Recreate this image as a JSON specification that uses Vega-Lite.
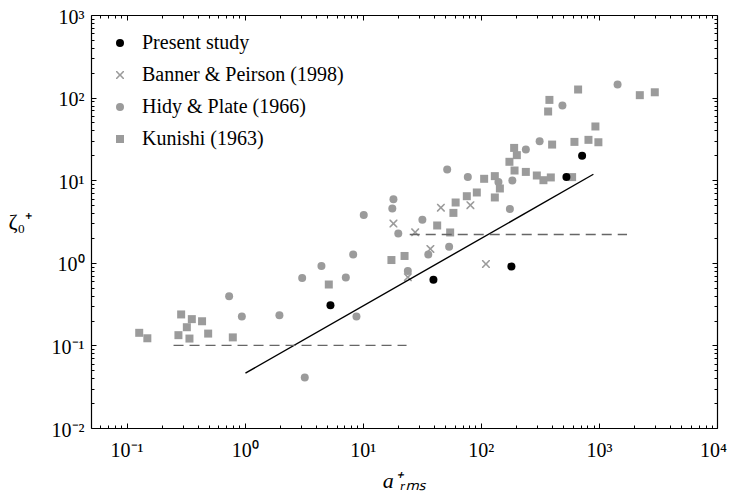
{
  "$schema": "https://vega.github.io/schema/vega-lite/v6.json",
  "width": 626,
  "height": 413,
  "autosize": {"type": "none"},
  "padding": {"left": 91, "top": 15, "right": 12, "bottom": 66},
  "config": {
    "view": {"stroke": null},
    "font": "Liberation Serif",
    "axis": {"grid": false, "domainColor": "black", "tickColor": "black", "labelColor": "black", "titleColor": "black", "tickWidth": 1, "domainWidth": 1.2, "labelFont": "Liberation Serif", "titleFont": "Liberation Serif"}
  },
  "datasets": {
    "points": [
      {"series": "Kunishi (1963)", "a": 0.128, "z": 0.142},
      {"series": "Kunishi (1963)", "a": 0.150, "z": 0.122},
      {"series": "Kunishi (1963)", "a": 0.290, "z": 0.237},
      {"series": "Kunishi (1963)", "a": 0.324, "z": 0.166},
      {"series": "Kunishi (1963)", "a": 0.357, "z": 0.208},
      {"series": "Kunishi (1963)", "a": 0.436, "z": 0.196},
      {"series": "Kunishi (1963)", "a": 0.275, "z": 0.133},
      {"series": "Kunishi (1963)", "a": 0.341, "z": 0.121},
      {"series": "Kunishi (1963)", "a": 0.491, "z": 0.139},
      {"series": "Kunishi (1963)", "a": 0.794, "z": 0.125},
      {"series": "Kunishi (1963)", "a": 5.16, "z": 0.546},
      {"series": "Kunishi (1963)", "a": 17.5, "z": 1.08},
      {"series": "Kunishi (1963)", "a": 22.6, "z": 1.21},
      {"series": "Kunishi (1963)", "a": 42.7, "z": 2.83},
      {"series": "Kunishi (1963)", "a": 55.0, "z": 2.33},
      {"series": "Kunishi (1963)", "a": 58.6, "z": 4.02},
      {"series": "Kunishi (1963)", "a": 61.2, "z": 5.37},
      {"series": "Kunishi (1963)", "a": 76.1, "z": 6.40},
      {"series": "Kunishi (1963)", "a": 92.5, "z": 7.10},
      {"series": "Kunishi (1963)", "a": 106.7, "z": 10.4},
      {"series": "Kunishi (1963)", "a": 131.4, "z": 11.2},
      {"series": "Kunishi (1963)", "a": 131.4, "z": 6.18},
      {"series": "Kunishi (1963)", "a": 145, "z": 7.94},
      {"series": "Kunishi (1963)", "a": 191.5, "z": 24.6},
      {"series": "Kunishi (1963)", "a": 201.8, "z": 20.1},
      {"series": "Kunishi (1963)", "a": 174.7, "z": 16.7},
      {"series": "Kunishi (1963)", "a": 193, "z": 13.1},
      {"series": "Kunishi (1963)", "a": 240.5, "z": 12.6},
      {"series": "Kunishi (1963)", "a": 298, "z": 11.4},
      {"series": "Kunishi (1963)", "a": 339, "z": 10.0},
      {"series": "Kunishi (1963)", "a": 391.5, "z": 10.8},
      {"series": "Kunishi (1963)", "a": 593, "z": 10.9},
      {"series": "Kunishi (1963)", "a": 401.6, "z": 27.0},
      {"series": "Kunishi (1963)", "a": 380.9, "z": 93.8},
      {"series": "Kunishi (1963)", "a": 371.5, "z": 67.9},
      {"series": "Kunishi (1963)", "a": 666.6, "z": 125.3},
      {"series": "Kunishi (1963)", "a": 620.6, "z": 29.1},
      {"series": "Kunishi (1963)", "a": 815.6, "z": 30.8},
      {"series": "Kunishi (1963)", "a": 990, "z": 28.8},
      {"series": "Kunishi (1963)", "a": 934, "z": 44.7},
      {"series": "Kunishi (1963)", "a": 2220, "z": 107},
      {"series": "Kunishi (1963)", "a": 2973, "z": 116},
      {"series": "Hidy & Plate (1966)", "a": 0.739, "z": 0.394},
      {"series": "Hidy & Plate (1966)", "a": 0.947, "z": 0.224},
      {"series": "Hidy & Plate (1966)", "a": 1.97, "z": 0.232},
      {"series": "Hidy & Plate (1966)", "a": 3.07, "z": 0.656},
      {"series": "Hidy & Plate (1966)", "a": 4.47, "z": 0.917},
      {"series": "Hidy & Plate (1966)", "a": 7.19, "z": 0.664},
      {"series": "Hidy & Plate (1966)", "a": 8.30, "z": 1.26},
      {"series": "Hidy & Plate (1966)", "a": 10.2, "z": 3.80},
      {"series": "Hidy & Plate (1966)", "a": 18.2, "z": 5.89},
      {"series": "Hidy & Plate (1966)", "a": 17.8, "z": 4.54},
      {"series": "Hidy & Plate (1966)", "a": 20.0, "z": 2.26},
      {"series": "Hidy & Plate (1966)", "a": 8.85, "z": 0.224},
      {"series": "Hidy & Plate (1966)", "a": 3.23, "z": 0.0409},
      {"series": "Hidy & Plate (1966)", "a": 32.0, "z": 3.32},
      {"series": "Hidy & Plate (1966)", "a": 53.9, "z": 1.56},
      {"series": "Hidy & Plate (1966)", "a": 35.9, "z": 1.26},
      {"series": "Hidy & Plate (1966)", "a": 24.1, "z": 0.798},
      {"series": "Hidy & Plate (1966)", "a": 176.3, "z": 4.48},
      {"series": "Hidy & Plate (1966)", "a": 184.9, "z": 9.92},
      {"series": "Hidy & Plate (1966)", "a": 240.6, "z": 23.6},
      {"series": "Hidy & Plate (1966)", "a": 51.9, "z": 13.5},
      {"series": "Hidy & Plate (1966)", "a": 77.6, "z": 10.9},
      {"series": "Hidy & Plate (1966)", "a": 141, "z": 9.53},
      {"series": "Hidy & Plate (1966)", "a": 314.8, "z": 29.6},
      {"series": "Hidy & Plate (1966)", "a": 491, "z": 80.5},
      {"series": "Hidy & Plate (1966)", "a": 1439, "z": 144},
      {"series": "Banner & Peirson (1998)", "a": 18.2, "z": 2.99},
      {"series": "Banner & Peirson (1998)", "a": 27.8, "z": 2.34},
      {"series": "Banner & Peirson (1998)", "a": 45.9, "z": 4.65},
      {"series": "Banner & Peirson (1998)", "a": 81.6, "z": 4.98},
      {"series": "Banner & Peirson (1998)", "a": 37.4, "z": 1.47},
      {"series": "Banner & Peirson (1998)", "a": 24.1, "z": 0.669},
      {"series": "Banner & Peirson (1998)", "a": 110.5, "z": 0.967},
      {"series": "Present study", "a": 5.33, "z": 0.307},
      {"series": "Present study", "a": 39.7, "z": 0.624},
      {"series": "Present study", "a": 181.6, "z": 0.904},
      {"series": "Present study", "a": 530.7, "z": 10.9},
      {"series": "Present study", "a": 720.6, "z": 19.8}
    ],
    "lines": [
      {"kind": "fit", "a": 1.016, "z": 0.0461},
      {"kind": "fit", "a": 898, "z": 11.8},
      {"kind": "low", "a": 0.25, "z": 0.1},
      {"kind": "low", "a": 23.5, "z": 0.1},
      {"kind": "high", "a": 25, "z": 2.2},
      {"kind": "high", "a": 1730, "z": 2.2}
    ]
  },
  "layer": [
    {
      "data": {"name": "points"},
      "mark": {"type": "point", "filled": true, "opacity": 1, "size": 64},
      "encoding": {
        "x": {
          "field": "a", "type": "quantitative",
          "scale": {"type": "log", "domain": [0.05, 10000], "nice": false},
          "axis": {
            "orient": "bottom", "values": [0.1, 1, 10, 100, 1000, 10000],
            "labelExpr": "datum.value < 0.5 ? '10⁻¹' : datum.value < 5 ? '10⁰' : datum.value < 50 ? '10¹' : datum.value < 500 ? '10²' : datum.value < 5000 ? '10³' : '10⁴'",
            "labelOffset": {"condition": {"test": "datum.value > 5000", "value": -4}, "value": 0},
            "tickSize": -5, "labelPadding": 17, "labelFontSize": 20, "labelFlush": false, "labelOverlap": false,
            "title": "a⁺ᵣₘₛ", "titleFontSize": 22, "titleFontStyle": "italic", "titleFontWeight": "normal",
            "titleX": 313, "titleY": 59, "titleBaseline": "alphabetic", "titleAlign": "center"
          }
        },
        "y": {
          "field": "z", "type": "quantitative",
          "scale": {"type": "log", "domain": [0.01, 1000], "nice": false},
          "axis": {
            "orient": "left", "values": [0.01, 0.1, 1, 10, 100, 1000],
            "labelExpr": "datum.value < 0.05 ? '10⁻²' : datum.value < 0.5 ? '10⁻¹' : datum.value < 5 ? '10⁰' : datum.value < 50 ? '10¹' : datum.value < 500 ? '10²' : '10³'",
            "tickSize": -5, "labelPadding": 12, "labelFontSize": 20, "labelFlush": false, "labelOverlap": false, "labelOffset": 2,
            "title": "ζ₀⁺", "titleFontSize": 22, "titleFontWeight": "normal", "titleAngle": 0,
            "titleX": -83, "titleY": 213, "titleAlign": "left", "titleBaseline": "alphabetic"
          }
        },
        "color": {
          "field": "series", "type": "nominal",
          "scale": {"domain": ["Present study", "Banner & Peirson (1998)", "Hidy & Plate (1966)", "Kunishi (1963)"], "range": ["#000000", "#9b9b9b", "#9b9b9b", "#9b9b9b"]},
          "legend": {
            "title": null, "orient": "none", "legendX": 19, "legendY": 18, "padding": 0,
            "labelFontSize": 20, "labelFont": "Liberation Serif", "labelColor": "black", "labelOffset": 12, "labelLimit": 0,
            "rowPadding": 12, "symbolSize": 64, "symbolStrokeWidth": 0
          }
        },
        "shape": {
          "field": "series", "type": "nominal",
          "scale": {"domain": ["Present study", "Banner & Peirson (1998)", "Hidy & Plate (1966)", "Kunishi (1963)"], "range": ["circle", "M-1,-1L-0.72,-1L0,-0.28L0.72,-1L1,-1L1,-0.72L0.28,0L1,0.72L1,1L0.72,1L0,0.28L-0.72,1L-1,1L-1,0.72L-0.28,0L-1,-0.72Z", "circle", "square"]}
        }
      }
    },
    {
      "data": {"name": "lines"},
      "transform": [{"filter": "datum.kind == 'fit'"}],
      "mark": {"type": "line", "color": "black", "strokeWidth": 1.4},
      "encoding": {
        "x": {"field": "a", "type": "quantitative", "scale": {"type": "log", "domain": [0.05, 10000], "nice": false},
          "axis": {"orient": "bottom", "values": [0.06, 0.07, 0.08, 0.09, 0.2, 0.3, 0.4, 0.5, 0.6, 0.7, 0.8, 0.9, 2, 3, 4, 5, 6, 7, 8, 9, 20, 30, 40, 50, 60, 70, 80, 90, 200, 300, 400, 500, 600, 700, 800, 900, 2000, 3000, 4000, 5000, 6000, 7000, 8000, 9000], "labels": false, "tickSize": -3, "domain": false, "title": null}},
        "y": {"field": "z", "type": "quantitative", "scale": {"type": "log", "domain": [0.01, 1000], "nice": false},
          "axis": {"orient": "left", "values": [0.02, 0.03, 0.04, 0.05, 0.06, 0.07, 0.08, 0.09, 0.2, 0.3, 0.4, 0.5, 0.6, 0.7, 0.8, 0.9, 2, 3, 4, 5, 6, 7, 8, 9, 20, 30, 40, 50, 60, 70, 80, 90, 200, 300, 400, 500, 600, 700, 800, 900], "labels": false, "tickSize": -3, "domain": false, "title": null}}
      }
    },
    {
      "data": {"name": "lines"},
      "transform": [{"filter": "datum.kind == 'low'"}],
      "mark": {"type": "line", "color": "#666666", "strokeWidth": 1.3, "strokeDash": [10, 6]},
      "encoding": {
        "x": {"field": "a", "type": "quantitative", "scale": {"type": "log", "domain": [0.05, 10000], "nice": false},
          "axis": {"orient": "top", "values": [0.1, 1, 10, 100, 1000, 10000], "labels": false, "tickSize": -5, "title": null}},
        "y": {"field": "z", "type": "quantitative", "scale": {"type": "log", "domain": [0.01, 1000], "nice": false},
          "axis": {"orient": "right", "values": [0.01, 0.1, 1, 10, 100, 1000], "labels": false, "tickSize": -5, "title": null}}
      }
    },
    {
      "data": {"name": "lines"},
      "transform": [{"filter": "datum.kind == 'high'"}],
      "mark": {"type": "line", "color": "#666666", "strokeWidth": 1.3, "strokeDash": [10, 6]},
      "encoding": {
        "x": {"field": "a", "type": "quantitative", "scale": {"type": "log", "domain": [0.05, 10000], "nice": false},
          "axis": {"orient": "top", "values": [0.06, 0.07, 0.08, 0.09, 0.2, 0.3, 0.4, 0.5, 0.6, 0.7, 0.8, 0.9, 2, 3, 4, 5, 6, 7, 8, 9, 20, 30, 40, 50, 60, 70, 80, 90, 200, 300, 400, 500, 600, 700, 800, 900, 2000, 3000, 4000, 5000, 6000, 7000, 8000, 9000], "labels": false, "tickSize": -3, "domain": false, "title": null}},
        "y": {"field": "z", "type": "quantitative", "scale": {"type": "log", "domain": [0.01, 1000], "nice": false},
          "axis": {"orient": "right", "values": [0.02, 0.03, 0.04, 0.05, 0.06, 0.07, 0.08, 0.09, 0.2, 0.3, 0.4, 0.5, 0.6, 0.7, 0.8, 0.9, 2, 3, 4, 5, 6, 7, 8, 9, 20, 30, 40, 50, 60, 70, 80, 90, 200, 300, 400, 500, 600, 700, 800, 900], "labels": false, "tickSize": -3, "domain": false, "title": null}}
      }
    }
  ],
  "resolve": {"axis": {"x": "independent", "y": "independent"}}
}
